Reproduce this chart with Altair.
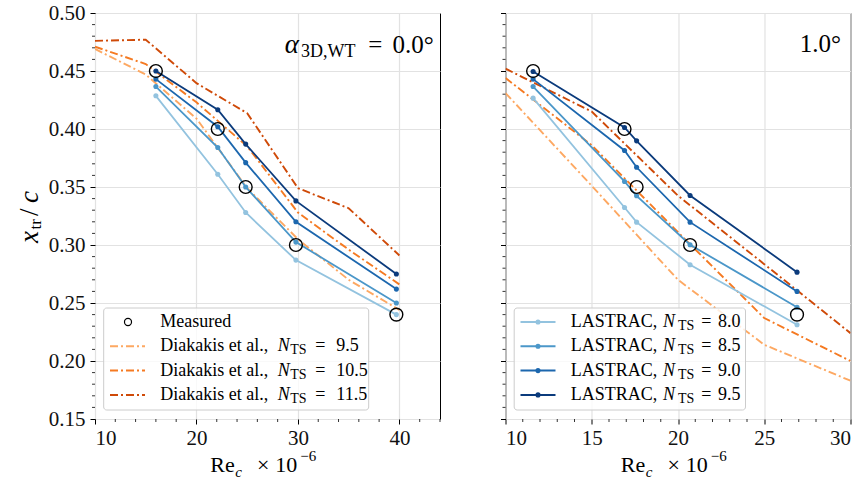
import altair as alt
import pandas as pd

# ---------------- alpha_3D,WT = 0.0 deg ----------------
re_meas_a0 = [16.0, 22.1, 24.85, 29.8, 39.7]
xtr_meas_a0 = [0.45, 0.40, 0.35, 0.30, 0.24]

lastrac_a0_n80 = [0.4286, 0.361, 0.328, 0.287, 0.240]
lastrac_a0_n85 = [0.4366, 0.384, 0.350, 0.3025, 0.250]
lastrac_a0_n90 = [0.443, 0.402, 0.371, 0.320, 0.262]
lastrac_a0_n95 = [0.450, 0.4166, 0.387, 0.338, 0.275]

re_diak_a0 = [10, 15, 20, 25, 30, 35, 40]
diak_a0_n95 = [0.469, 0.447, 0.409, 0.349, 0.305, 0.270, 0.244]
diak_a0_n105 = [0.471, 0.456, 0.423, 0.385, 0.328, 0.296, 0.266]
diak_a0_n115 = [0.476, 0.477, 0.4395, 0.4136, 0.349, 0.3317, 0.291]

# ---------------- alpha_3D,WT = 1.0 deg ----------------
re_meas_a1 = [11.6, 16.9, 17.6, 20.7, 26.9]
xtr_meas_a1 = [0.45, 0.40, 0.35, 0.30, 0.24]

lastrac_a1_n80 = [0.4266, 0.3323, 0.3197, 0.283, 0.2313]
lastrac_a1_n85 = [0.4366, 0.3548, 0.3424, 0.3002, 0.2464]
lastrac_a1_n90 = [0.443, 0.3815, 0.367, 0.3197, 0.260]
lastrac_a1_n95 = [0.4496, 0.4013, 0.3898, 0.3427, 0.2766]

re_diak_a1 = [10, 15, 20, 25, 30]
diak_a1_n95 = [0.431, 0.351, 0.270, 0.214, 0.183]
diak_a1_n105 = [0.444, 0.386, 0.311, 0.237, 0.200]
diak_a1_n115 = [0.452, 0.415, 0.3425, 0.2835, 0.224]

# series labels and colours
nts_lastrac = ["8.0", "8.5", "9.0", "9.5"]
nts_diak = ["9.5", "10.5", "11.5"]
lastrac_colors = ["#93c3df", "#4b97c9", "#1c67ae", "#0b3b7c"]
diak_colors = ["#fda862", "#f57a22", "#cf4a08"]

# axis ticks
xmajor_a0 = [10, 20, 30, 40]
xminor_a0 = [12, 14, 16, 18, 22, 24, 26, 28, 32, 34, 36, 38, 42, 44]
xmajor_a1 = [10, 15, 20, 25, 30]
xminor_a1 = [11, 12, 13, 14, 16, 17, 18, 19, 21, 22, 23, 24, 26, 27, 28, 29]
ymajor = [0.15, 0.20, 0.25, 0.30, 0.35, 0.40, 0.45, 0.50]
yminor = [round(0.15 + 0.01 * i, 2) for i in range(1, 35) if i % 5 != 0]

FONT = "Liberation Serif"
W, H = 345, 406
DASHDOT = [8, 3, 2, 3]
LEG = 18  # legend font size
one = pd.DataFrame({"k": [0]})

color_domain = [f"L{n}" for n in nts_lastrac] + [f"D{n}" for n in nts_diak]
color_range = lastrac_colors + diak_colors


def long_df(re, series):
    rows = []
    for name, vals in series:
        for r, v in zip(re, vals):
            rows.append({"Re": r, "xtr": v, "series": name})
    return pd.DataFrame(rows)


def txt(s, x, y, size=LEG, style="normal", align="left", angle=0, baseline="middle"):
    kw = dict(align=align, baseline=baseline, font=FONT, fontSize=size, color="black")
    if style != "normal":
        kw["fontStyle"] = style
    if angle:
        kw["angle"] = angle
    return alt.Chart(one).mark_text(**kw).encode(
        x=alt.value(x), y=alt.value(y), text=alt.value(s)
    )


def panel(xdom, xmajor, xminor, meas_re, meas_x, lastrac, diak_re, diak,
          ylabels, legend_rows, legend_width, annotation, ytitle):
    xs = alt.Scale(domain=xdom, nice=False, zero=False)
    ys = alt.Scale(domain=[0.15, 0.50], nice=False, zero=False)
    xaxis = alt.Axis(values=xmajor, title=None, grid=True, domain=False,
                     format="d", labelPadding=3)
    yaxis = alt.Axis(values=ymajor, title=None, grid=True, domain=False,
                     format=".2f", labels=ylabels, labelPadding=5)

    def X(f):
        return alt.X(f"{f}:Q", scale=xs, axis=xaxis)

    def Y(f):
        return alt.Y(f"{f}:Q", scale=ys, axis=yaxis)

    col = alt.Color("series:N", scale=alt.Scale(domain=color_domain, range=color_range),
                    legend=None)

    lastrac_df = long_df(meas_re, lastrac)
    diak_df = long_df(diak_re, diak)
    meas_df = pd.DataFrame({"Re": meas_re, "xtr": meas_x})

    layers = []
    # minor ticks
    layers.append(alt.Chart(pd.DataFrame({"v": xminor})).mark_rule(
        color="black", strokeWidth=0.8).encode(x=X("v"), y=alt.value(H), y2=alt.value(H + 3)))
    layers.append(alt.Chart(pd.DataFrame({"v": yminor})).mark_rule(
        color="black", strokeWidth=0.8).encode(y=Y("v"), x=alt.value(0), x2=alt.value(-3)))

    # model curves
    layers.append(alt.Chart(diak_df).mark_line(strokeWidth=1.9, strokeDash=DASHDOT, clip=True)
                  .encode(x=X("Re"), y=Y("xtr"), color=col, detail="series:N"))
    layers.append(alt.Chart(lastrac_df).mark_line(strokeWidth=1.8, clip=True)
                  .encode(x=X("Re"), y=Y("xtr"), color=col, detail="series:N"))
    layers.append(alt.Chart(lastrac_df).mark_point(filled=True, size=26, opacity=1)
                  .encode(x=X("Re"), y=Y("xtr"), color=col))
    # measurements
    layers.append(alt.Chart(meas_df).mark_point(shape="circle", filled=False, size=165,
                                                color="black", strokeWidth=1.4, opacity=1)
                  .encode(x=X("Re"), y=Y("xtr")))

    # legend
    layers.append(alt.Chart(one).mark_rect(fill="white", fillOpacity=0.8, stroke="#cccccc",
                                           strokeWidth=1, cornerRadius=3)
                  .encode(x=alt.value(8.7), x2=alt.value(8.7 + legend_width),
                          y=alt.value(295), y2=alt.value(397)))
    row_y = [309, 333.3, 357.6, 381.9]
    for (kind, label, nval, colr, pos), yy in zip(legend_rows, row_y):
        if kind == "meas":
            layers.append(alt.Chart(one).mark_point(shape="circle", filled=False, size=50,
                                                    color="black", strokeWidth=1.2, opacity=1)
                          .encode(x=alt.value(33), y=alt.value(yy)))
            layers.append(txt(label, 65.3, yy))
            continue
        rule_kw = dict(color=colr, strokeWidth=2)
        if kind == "diak":
            rule_kw["strokeDash"] = DASHDOT
        layers.append(alt.Chart(one).mark_rule(**rule_kw)
                      .encode(x=alt.value(15), x2=alt.value(50), y=alt.value(yy)))
        if kind == "lastrac":
            layers.append(alt.Chart(one).mark_point(filled=True, size=26, color=colr, opacity=1)
                          .encode(x=alt.value(32.5), y=alt.value(yy)))
        xn, xs_, xe, xv = pos
        layers.append(txt(label, 65.3, yy))
        layers.append(txt("N", xn, yy, style="italic"))
        layers.append(txt("TS", xs_, yy + 4, size=14))
        layers.append(txt("=", xe, yy))
        layers.append(txt(nval, xv, yy))

    # annotation in the upper right corner
    layers.extend(annotation)

    # x-axis title: Re_c x 10^-6
    layers.append(txt("Re", 115.3, 451.8, size=22))
    layers.append(txt("c", 140.3, 458.5, size=15, style="italic"))
    layers.append(txt("×", 162, 451.8, size=22))
    layers.append(txt("10", 180.3, 451.8, size=22))
    layers.append(txt("−6", 205.3, 443, size=15))

    # y-axis title: x_tr / c
    if ytitle:
        layers.append(txt("x", -65, 230, size=27, style="italic", angle=270))
        layers.append(txt("tr", -59, 216.5, size=17, angle=270))
        layers.append(txt("/", -65, 203, size=27, angle=270))
        layers.append(txt("c", -65, 190, size=27, style="italic", angle=270))

    return alt.layer(*layers).properties(width=W, height=H)


left_lastrac = [("L8.0", lastrac_a0_n80), ("L8.5", lastrac_a0_n85),
                ("L9.0", lastrac_a0_n90), ("L9.5", lastrac_a0_n95)]
left_diak = [("D9.5", diak_a0_n95), ("D10.5", diak_a0_n105), ("D11.5", diak_a0_n115)]
right_lastrac = [("L8.0", lastrac_a1_n80), ("L8.5", lastrac_a1_n85),
                 ("L9.0", lastrac_a1_n90), ("L9.5", lastrac_a1_n95)]
right_diak = [("D9.5", diak_a1_n95), ("D10.5", diak_a1_n105), ("D11.5", diak_a1_n115)]

pos_diak = (182.7, 195.3, 220.3, 241.3)
pos_lastrac = (157.5, 172.5, 195.8, 212.5)
legend_left = [("meas", "Measured", None, None, None)] + [
    ("diak", "Diakakis et al.,", n, c, pos_diak) for n, c in zip(nts_diak, diak_colors)]
legend_right = [("lastrac", "LASTRAC,", n, c, pos_lastrac)
                for n, c in zip(nts_lastrac, lastrac_colors)]

annot_left = [
    txt("α", 189.7, 31.8, size=27, style="italic"),
    txt("3D,WT", 206, 38.5, size=18),
    txt("=", 280.3, 31.8, size=25, align="center"),
    txt("0.0°", 338.7, 31.8, size=25, align="right"),
]
annot_right = [txt("1.0°", 335.5, 30.5, size=25, align="right")]

left = panel([10, 44], xmajor_a0, xminor_a0, re_meas_a0, xtr_meas_a0, left_lastrac,
             re_diak_a0, left_diak, True, legend_left, 265, annot_left, True)
right = panel([10, 30], xmajor_a1, xminor_a1, re_meas_a1, xtr_meas_a1, right_lastrac,
              re_diak_a1, right_diak, False, legend_right, 231.3, annot_right, False)

chart = alt.hconcat(left, right, spacing=58.5).properties(
    padding={"left": 15, "top": 1, "right": 0, "bottom": 0}
).configure_view(stroke="black", strokeWidth=1).configure_axis(
    labelFont=FONT, labelFontSize=21, labelColor="#111111",
    tickColor="black", tickSize=5, tickWidth=1,
    gridColor="#e2e2e2", gridWidth=1.2,
)

chart.save("out.html", embed_options={"renderer": "svg", "actions": False})
